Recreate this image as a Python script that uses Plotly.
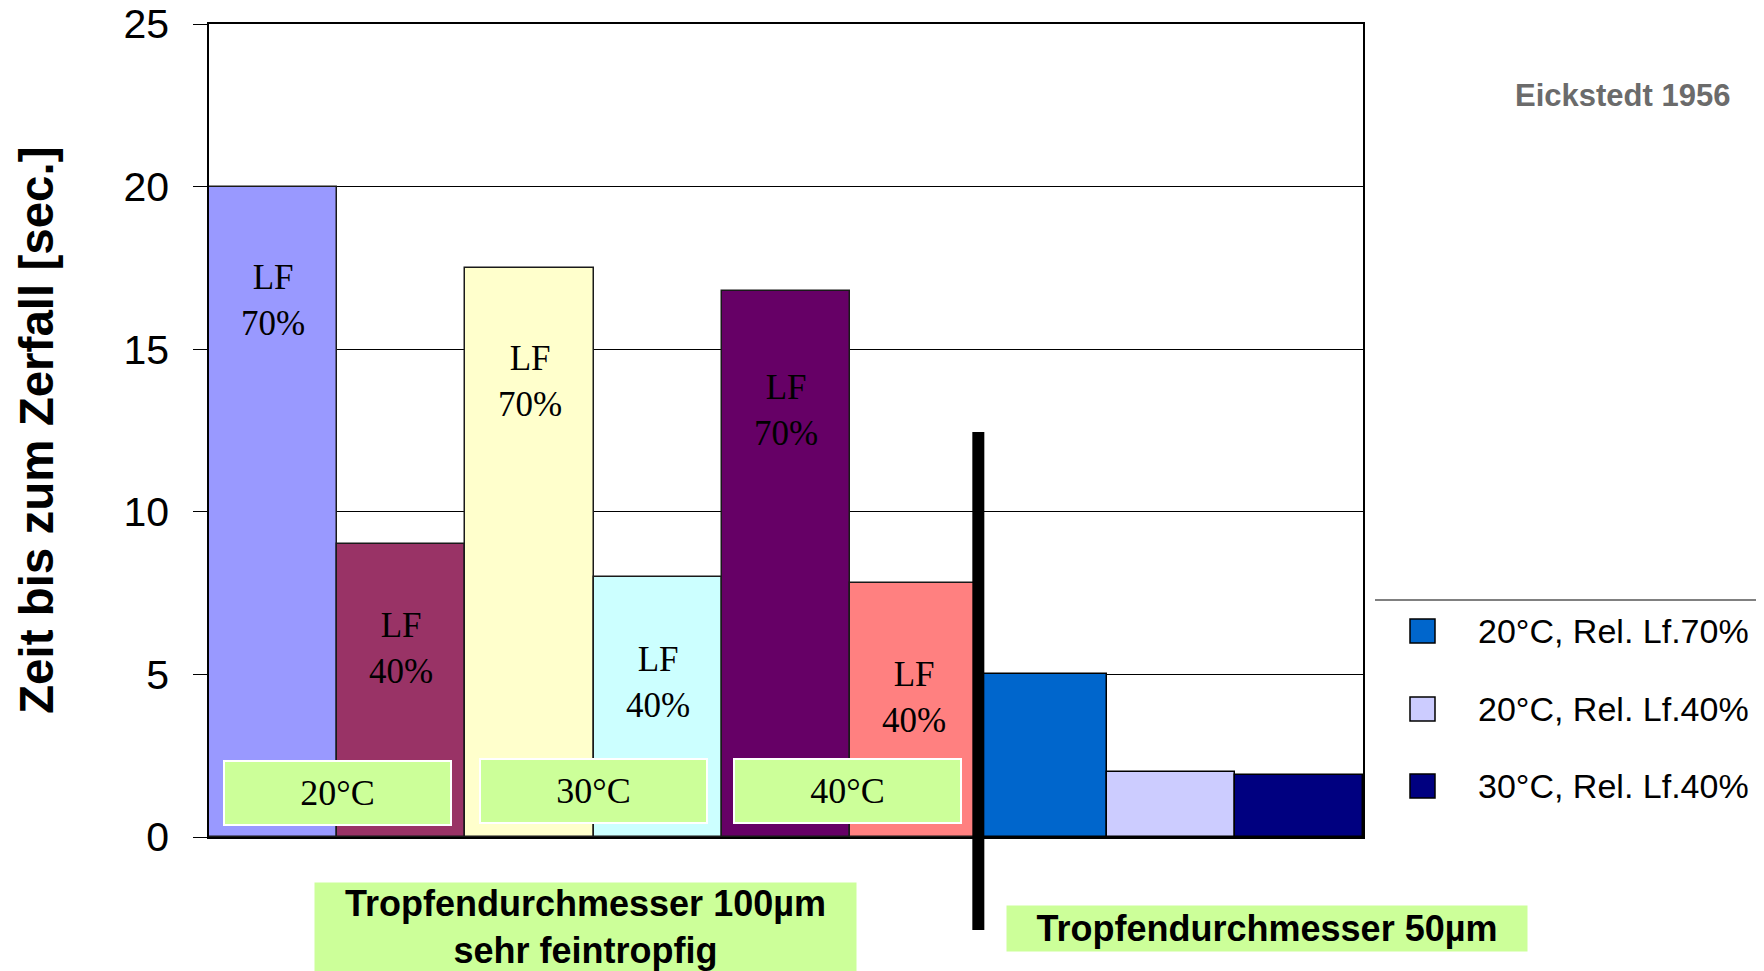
import plotly.graph_objects as go

# ---- data ----
labels_100 = ["20°C LF 70%", "20°C LF 40%", "30°C LF 70%", "30°C LF 40%", "40°C LF 70%", "40°C LF 40%"]
values_100 = [20, 9, 17.5, 8, 16.8, 7.8]
colors_100 = ["#9999FF", "#993366", "#FFFFCC", "#CCFFFF", "#660066", "#FF8080"]
bar_texts_100 = ["LF<br>70%", "LF<br>40%", "LF<br>70%", "LF<br>40%", "LF<br>70%", "LF<br>40%"]

labels_50 = ["20°C, Rel. Lf.70%", "20°C, Rel. Lf.40%", "30°C, Rel. Lf.40%"]
values_50 = [5, 2, 1.9]
colors_50 = ["#0066CC", "#CCCCFF", "#000080"]

temp_labels = ["20°C", "30°C", "40°C"]
y_ticks = [0, 5, 10, 15, 20, 25]

# ---- layout geometry (page pixels) ----
PAGE_W, PAGE_H = 1764, 971
BODY = 8  # default body margin of the html page
W, H = PAGE_W - BODY, PAGE_H - BODY
L, R, T, B = 209, 1363, 24, 837  # plot area in page pixels


def px(x):
    return (x - L) / (R - L)


def py(y):
    return (B - y) / (B - T)


x_100 = list(range(len(values_100)))
x_50 = list(range(len(values_100), len(values_100) + len(values_50)))

fig = go.Figure()
fig.add_trace(go.Bar(
    x=x_100, y=values_100, marker=dict(color=colors_100, line=dict(color="#1a1a1a", width=1.5)),
    width=1, showlegend=False, hoverinfo="y", name="Tropfendurchmesser 100µm",
    customdata=labels_100,
))
fig.add_trace(go.Bar(
    x=x_50, y=values_50, marker=dict(color=colors_50, line=dict(color="#000000", width=1.5)),
    width=1, showlegend=False, hoverinfo="y", name="Tropfendurchmesser 50µm",
    customdata=labels_50,
))

annotations = []
# LF labels inside bars (vertical placement of text)
lf_text_y = [16.5, 5.8, 14.0, 4.75, 13.1, 4.3]
for xi, t, ty in zip(x_100, bar_texts_100, lf_text_y):
    annotations.append(dict(x=xi, y=ty, xref="x", yref="y", text=t, showarrow=False,
                            font=dict(family="Liberation Serif, Times New Roman, serif", size=35, color="black")))

# temperature boxes
temp_box_cx = [337, 593, 847]
temp_box_cy = [793, 791, 791]
for t, cx, cy in zip(temp_labels, temp_box_cx, temp_box_cy):
    annotations.append(dict(x=px(cx), y=py(cy), xref="paper", yref="paper", text=t, showarrow=False,
                            xanchor="center", yanchor="middle", width=225, height=62,
                            bgcolor="#CCFF99", bordercolor="white", borderwidth=2, borderpad=0,
                            font=dict(family="Liberation Serif, Times New Roman, serif", size=36, color="black")))

# bottom group labels
annotations.append(dict(x=px(585), y=py(927), xref="paper", yref="paper",
                        text="Tropfendurchmesser 100µm<br>sehr feintropfig", showarrow=False,
                        xanchor="center", yanchor="middle", width=541, height=88, borderpad=0,
                        bgcolor="#CCFF99",
                        font=dict(family="Liberation Sans, Arial, sans-serif", size=36, color="black", weight="bold")))
annotations.append(dict(x=px(1267), y=py(928), xref="paper", yref="paper",
                        text="Tropfendurchmesser 50µm", showarrow=False,
                        xanchor="center", yanchor="middle", width=520, height=45, borderpad=0,
                        bgcolor="#CCFF99",
                        font=dict(family="Liberation Sans, Arial, sans-serif", size=36, color="black", weight="bold")))

# y axis title
annotations.append(dict(x=px(36), y=py(430), xref="paper", yref="paper",
                        text="Zeit bis zum Zerfall [sec.]", showarrow=False, textangle=-90,
                        xanchor="center", yanchor="middle",
                        font=dict(family="Liberation Sans, Arial, sans-serif", size=47.5, color="black", weight="bold")))

# source
annotations.append(dict(x=px(1622), y=py(95), xref="paper", yref="paper",
                        text="Eickstedt 1956", showarrow=False, xanchor="center", yanchor="middle",
                        font=dict(family="Liberation Sans, Arial, sans-serif", size=31, color="#6b6b6b", weight="bold")))

# manual legend
shapes = []
shapes.append(dict(type="line", xref="paper", yref="paper", x0=px(1375), x1=px(1764), y0=py(600), y1=py(600),
                   line=dict(color="#808080", width=2)))
leg_cy = [631, 709, 786]
for name, col, cy in zip(labels_50, colors_50, leg_cy):
    shapes.append(dict(type="rect", xref="paper", yref="paper", x0=px(1410), x1=px(1435),
                       y0=py(cy + 12), y1=py(cy - 12), fillcolor=col, line=dict(color="black", width=1.5)))
    annotations.append(dict(x=px(1476), y=py(cy), xref="paper", yref="paper", text=name, showarrow=False,
                            xanchor="left", yanchor="middle",
                            font=dict(family="Liberation Sans, Arial, sans-serif", size=34, color="black")))

# separator line between groups
shapes.append(dict(type="line", xref="x", yref="paper", x0=len(values_100) - 0.5, x1=len(values_100) - 0.5,
                   y0=py(432), y1=py(930), line=dict(color="black", width=12)))

fig.update_layout(
    width=W, height=H,
    margin=dict(l=L - BODY, r=PAGE_W - R, t=T - BODY, b=PAGE_H - B, pad=0, autoexpand=False),
    plot_bgcolor="white", paper_bgcolor="white",
    barmode="overlay", bargap=0,
    showlegend=False,
    annotations=annotations,
    shapes=shapes,
    xaxis=dict(range=[-0.5, len(values_100) + len(values_50) - 0.5], showticklabels=False, ticks="",
               showgrid=False, showline=True, linecolor="black", linewidth=1.5, mirror=True, zeroline=False,
               automargin=False),
    yaxis=dict(range=[0, 25], tickvals=y_ticks, ticks="outside", ticklen=14, tickcolor="black",
               tickwidth=1, ticklabelstandoff=16, automargin=False, ticklabeloverflow="allow",
               tickfont=dict(family="Liberation Sans, Arial, sans-serif", size=41, color="black"),
               showgrid=True, gridcolor="black", gridwidth=1,
               showline=True, linecolor="black", linewidth=1.5, mirror=True, zeroline=False),
)

fig.write_html("out.html")
